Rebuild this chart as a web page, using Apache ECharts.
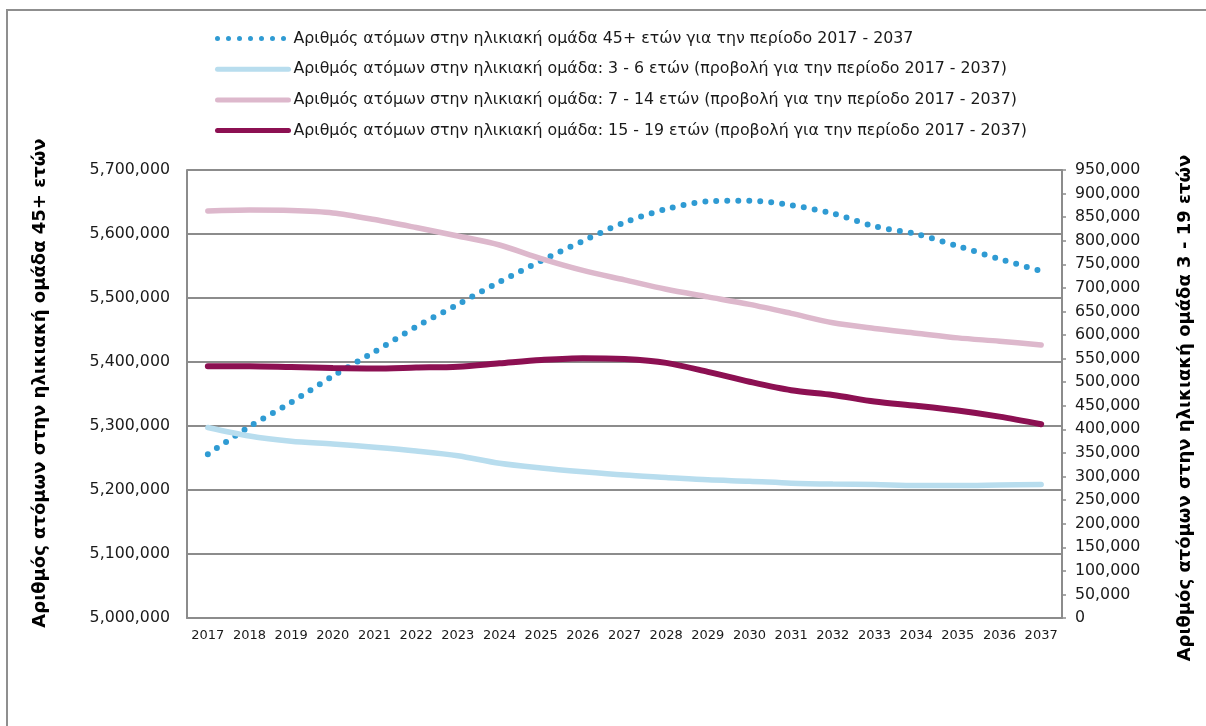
<!DOCTYPE html>
<html>
<head>
<meta charset="utf-8">
<script src="https://cdn.jsdelivr.net/npm/echarts@6/dist/echarts.min.js"></script>
<style>
  html, body { margin: 0; padding: 0; background: #fff; }
  #chart { width: 1206px; height: 726px; }
</style>
</head>
<body>
<div id="chart"></div>
<script>
// years on the x axis
var years = ['2017','2018','2019','2020','2021','2022','2023','2024','2025','2026','2027',
             '2028','2029','2030','2031','2032','2033','2034','2035','2036','2037'];

// 45+ (left axis)
var age45plus = [5256000, 5299000, 5337000, 5378000, 5416000, 5455000, 5490000, 5525000, 5558000, 5589000, 5618000,
                 5639000, 5651000, 5652000, 5645000, 5632000, 5612000, 5600000, 5581000, 5561000, 5542000];
// 3 - 6 (right axis)
var age3to6 = [404000, 386000, 375000, 369000, 362000, 354000, 344000, 328000, 318000, 310000, 303000,
               298000, 293000, 290000, 286000, 284000, 283000, 281000, 281000, 282000, 283000];
// 7 - 14 (right axis)
var age7to14 = [863000, 865000, 864000, 859000, 845000, 828000, 810000, 791000, 762000, 737000, 717000,
                697000, 681000, 665000, 646000, 626000, 614000, 604000, 594000, 587000, 579000];
// 15 - 19 (right axis)
var age15to19 = [534000, 534000, 532000, 530000, 529000, 531000, 533000, 540000, 547000, 551000, 549000,
                 541000, 522000, 501000, 483000, 473000, 459000, 450000, 440000, 427000, 411000];

var seriesNames = [
    'Αριθμός ατόμων στην ηλικιακή ομάδα 45+ ετών για την περίοδο 2017 - 2037',
    'Αριθμός ατόμων στην ηλικιακή ομάδα: 3 - 6 ετών (προβολή για την περίοδο 2017 - 2037)',
    'Αριθμός ατόμων στην ηλικιακή ομάδα: 7 - 14 ετών (προβολή για την περίοδο 2017 - 2037)',
    'Αριθμός ατόμων στην ηλικιακή ομάδα: 15 - 19 ετών (προβολή για την περίοδο 2017 - 2037)'
];
var leftTitle = 'Αριθμός ατόμων στην ηλικιακή ομάδα 45+ ετών';
var rightTitle = 'Αριθμός ατόμων στην ηλικιακή ομάδα 3 - 19 ετών';

var font = '"DejaVu Sans", Verdana, sans-serif';
var gridGrey = '#8c8c8c';

function fmt(v){
    return v.toLocaleString('en-US');
}

var chart = echarts.init(document.getElementById('chart'));

var option = {
    backgroundColor: '#fff',
    animation: false,
    textStyle: { fontFamily: font },
    graphic: [{
        type: 'rect',
        shape: { x: 7, y: 10, width: 1240, height: 760 },
        style: { fill: 'none', stroke: '#8f8f8f', lineWidth: 2 },
        silent: true
    }, {
        // left axis title
        type: 'text',
        x: 40, y: 383,
        rotation: Math.PI / 2,
        style: { text: leftTitle, fontSize: 18, fontWeight: 'bold', fontFamily: font, fill: '#000',
                 align: 'center', verticalAlign: 'middle' },
        silent: true
    }, {
        // right axis title
        type: 'text',
        x: 1185, y: 408,
        rotation: Math.PI / 2,
        style: { text: rightTitle, fontSize: 18, fontWeight: 'bold', fontFamily: font, fill: '#000',
                 align: 'center', verticalAlign: 'middle' },
        silent: true
    }],
    legend: {
        orient: 'vertical',
        left: 215,
        top: 30,
        padding: 0,
        itemWidth: 71,
        itemHeight: 14,
        itemGap: 13.7,
        itemStyle: { opacity: 0 },
        lineStyle: { width: 5, cap: 'round' },
        textStyle: { fontSize: 15.8, color: '#1a1a1a', fontFamily: font, lineHeight: 17 },
        data: seriesNames
    },
    grid: { left: 187, right: 144, top: 170, bottom: 108 },
    xAxis: {
        type: 'category',
        data: years,
        boundaryGap: true,
        axisLine: { lineStyle: { color: gridGrey, width: 2 } },
        axisTick: { show: false },
        axisLabel: { fontSize: 13, color: '#1a1a1a', margin: 11, interval: 0 }
    },
    yAxis: [{
        type: 'value',
        min: 5000000,
        max: 5700000,
        interval: 100000,
        axisLine: { show: true, lineStyle: { color: gridGrey, width: 2 } },
        axisTick: { show: false },
        axisLabel: { fontSize: 15.8, color: '#1a1a1a', margin: 17, formatter: fmt },
        splitLine: { lineStyle: { color: gridGrey, width: 2 } }
    }, {
        type: 'value',
        position: 'right',
        min: 0,
        max: 950000,
        interval: 50000,
        axisLine: { show: true, lineStyle: { color: gridGrey, width: 2 } },
        axisTick: { show: true, length: 4, lineStyle: { color: gridGrey, width: 1.5 } },
        axisLabel: { fontSize: 15.8, color: '#1a1a1a', margin: 13, formatter: fmt },
        splitLine: { show: false }
    }],
    series: [{
        name: seriesNames[0],
        type: 'line',
        yAxisIndex: 0,
        data: age45plus,
        smooth: 0.3,
        symbol: 'none',
        lineStyle: { color: '#2f9bd3', width: 6, type: [0, 11], cap: 'round' },
        itemStyle: { color: '#2f9bd3' }
    }, {
        name: seriesNames[1],
        type: 'line',
        yAxisIndex: 1,
        data: age3to6,
        smooth: 0.3,
        symbol: 'none',
        lineStyle: { color: '#b8ddee', width: 5.5, cap: 'round' },
        itemStyle: { color: '#b8ddee' }
    }, {
        name: seriesNames[2],
        type: 'line',
        yAxisIndex: 1,
        data: age7to14,
        smooth: 0.3,
        symbol: 'none',
        lineStyle: { color: '#ddb8cc', width: 5.5, cap: 'round' },
        itemStyle: { color: '#ddb8cc' }
    }, {
        name: seriesNames[3],
        type: 'line',
        yAxisIndex: 1,
        data: age15to19,
        smooth: 0.3,
        symbol: 'none',
        lineStyle: { color: '#8c1052', width: 6, cap: 'round' },
        itemStyle: { color: '#8c1052' }
    }]
};

chart.setOption(option);
</script>
</body>
</html>
